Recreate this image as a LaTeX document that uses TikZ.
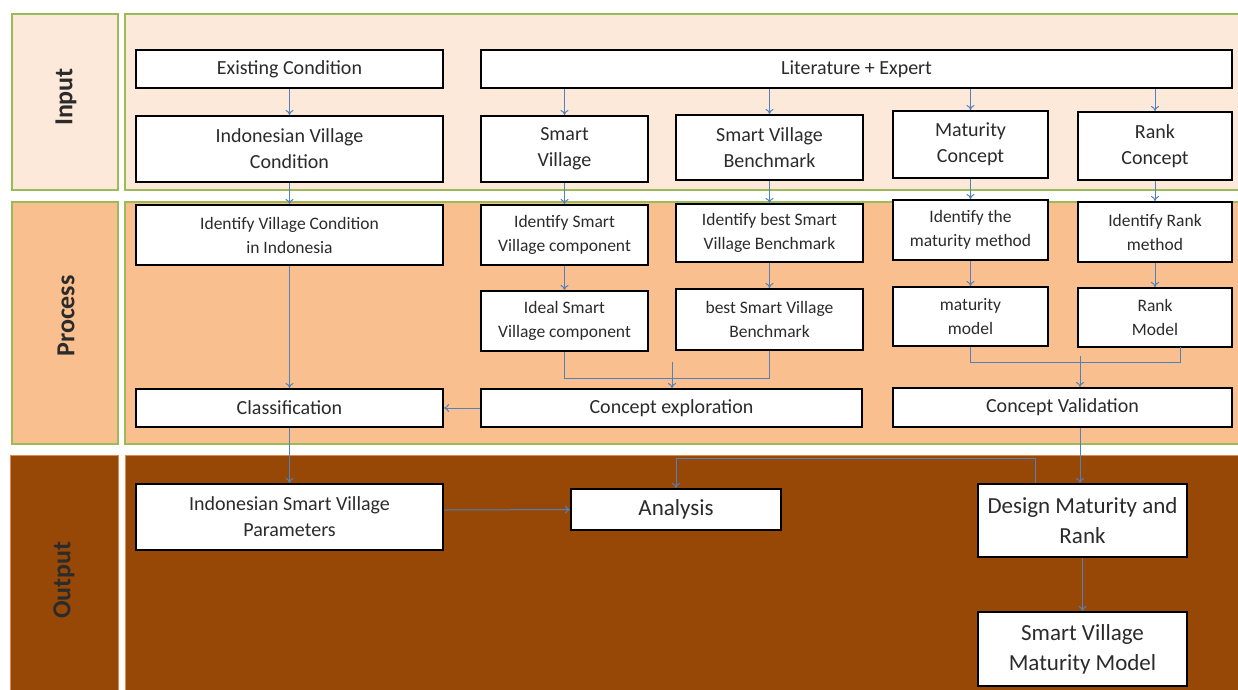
\documentclass[tikz,border=0pt]{standalone}
\usepackage{fontspec}
\setmainfont{Carlito}
\usetikzlibrary{arrows.meta}
\definecolor{inF}{HTML}{FDE9D9}
\definecolor{prF}{HTML}{FABF8F}
\definecolor{ouF}{HTML}{974806}
\definecolor{bandG}{HTML}{9BBB59}
\definecolor{bandO}{HTML}{E0894A}
\definecolor{conn}{HTML}{4F81BD}
\definecolor{txt}{HTML}{2B2B2B}
\begin{document}
\begin{tikzpicture}[x=1pt,y=-1pt,
 box/.style={draw=black, line width=2pt, fill=white, align=center, inner sep=1pt, text=txt, font=\fontsize{20}{26}\selectfont},
 pbox/.style={box, font=\fontsize{17.5}{24}\selectfont},
 obox/.style={box, font=\fontsize{23}{30}\selectfont},
 cn/.style={draw=conn, line width=1pt, -{To[length=5pt,width=8pt]}},
 cl/.style={draw=conn, line width=1pt},
 band/.style={draw=bandG, line width=1.5pt},
 oband/.style={draw=bandO, line width=1pt},
 lbl/.style={rotate=90, font=\bfseries\fontsize{26}{30}\selectfont, text=txt}]
\useasboundingbox (0,0) rectangle (1238,689);
\clip (0,0) rectangle (1238,689);
\fill[white] (0,0) rectangle (1238,689);
% bands
\draw[band, fill=inF] (12,14) rectangle (118,190);
\draw[band, fill=inF] (125,14) rectangle (1250,190);
\draw[band, fill=prF] (12,202) rectangle (118,444);
\draw[band, fill=prF] (125,202) rectangle (1250,444);
\draw[oband, fill=ouF] (10,455) rectangle (118,700);
\draw[oband, fill=ouF] (125,455) rectangle (1250,700);
\node[lbl] (lin) at (66,97) {Input};
\node[lbl] (lpr) at (66,316) {Process};
\node[lbl] (lou) at (64,580) {Output};
% input row
\node[box, minimum width=307pt, minimum height=38pt] (ec) at (289.5,69) {Existing Condition};
\node[box, minimum width=751pt, minimum height=38pt] (lit) at (856.5,69) {Literature + Expert};
\node[box, minimum width=307pt, minimum height=66pt] (ivc) at (289.5,149) {Indonesian Village\\Condition};
\node[box, minimum width=167pt, minimum height=66pt] (sv) at (564.5,149) {Smart\\Village};
\node[box, minimum width=187pt, minimum height=65pt] (svb) at (769.5,147.5) {Smart Village\\Benchmark};
\node[box, minimum width=155pt, minimum height=67pt] (mc) at (970.5,144.5) {Maturity\\Concept};
\node[box, minimum width=154pt, minimum height=68pt] (rc) at (1155,146) {Rank\\Concept};
% process
\node[pbox, minimum width=307pt, minimum height=60pt] (ivp) at (289.5,235) {Identify Village Condition\\in Indonesia};
\node[pbox, minimum width=167pt, minimum height=60pt] (isv) at (564.5,235) {Identify Smart\\Village component};
\node[pbox, minimum width=187pt, minimum height=58pt] (ib) at (769.5,233) {Identify best Smart\\Village Benchmark};
\node[pbox, minimum width=155pt, minimum height=60pt] (im) at (970.5,230) {Identify the\\maturity method};
\node[pbox, minimum width=154pt, minimum height=60pt] (ir) at (1155,232) {Identify Rank\\method};
\node[pbox, minimum width=167pt, minimum height=60pt] (ideal) at (564.5,321) {Ideal Smart\\Village component};
\node[pbox, minimum width=187pt, minimum height=61pt] (bsvb) at (769.5,319.5) {best Smart Village\\Benchmark};
\node[pbox, minimum width=155pt, minimum height=59pt] (mm) at (970.5,316.5) {maturity\\model};
\node[pbox, minimum width=154pt, minimum height=59pt] (rm) at (1155,317.5) {Rank\\Model};
\node[box, minimum width=307pt, minimum height=38pt] (cls) at (289.5,408) {Classification};
\node[box, minimum width=381pt, minimum height=38pt] (ce) at (671.5,408) {Concept exploration};
\node[box, minimum width=339pt, minimum height=39pt] (cv) at (1062.5,407.5) {Concept Validation};
% output
\node[box, minimum width=307pt, minimum height=66pt] (isvp) at (289.5,517) {Indonesian Smart Village\\Parameters};
\node[obox, minimum width=210pt, minimum height=41pt] (an) at (676,509.5) {Analysis};
\node[obox, minimum width=209pt, minimum height=73pt] (dmr) at (1082.5,520.5) {Design Maturity and\\Rank};
\node[obox, minimum width=209pt, minimum height=74pt] (svmm) at (1082.5,649) {Smart Village\\Maturity Model};
% connectors
\draw[cn] (ec) -- (ivc);
\draw[cn] (ivc) -- (ivp);
\draw[cn] (ivp) -- (cls);
\draw[cn] (sv.north |- lit.south) -- (sv.north);
\draw[cn] (svb.north |- lit.south) -- (svb.north);
\draw[cn] (mc.north |- lit.south) -- (mc.north);
\draw[cn] (rc.north |- lit.south) -- (rc.north);
\draw[cn] (sv) -- (isv);
\draw[cn] (svb) -- (ib);
\draw[cn] (mc) -- (im);
\draw[cn] (rc) -- (ir);
\draw[cn] (isv) -- (ideal);
\draw[cn] (ib) -- (bsvb);
\draw[cn] (im) -- (mm);
\draw[cn] (ir) -- (rm);
\coordinate (j1) at (672,378);
\coordinate (j1t) at (672,362);
\draw[cl] (ideal.south) |- (j1) -| (bsvb.south);
\draw[cn] (j1t) -- (ce.north -| j1t);
\coordinate (j2) at (1080,362);
\coordinate (j2t) at (1080,356);
\coordinate (rmb) at (1180,347);
\draw[cl] (mm.south) |- (j2) -| (rmb);
\draw[cn] (j2t) -- (cv.north -| j2t);
\draw[cn] (ce.west) -- (cls.east);
\draw[cn] (cls) -- (isvp);
\draw[cn] ([yshift=7pt]isvp.east) -- (an.west);
\draw[cn] (cv.south -| j2) -- (dmr.north -| j2);
\coordinate (j3) at (676,458);
\draw[cn] ([xshift=-47.5pt]dmr.north) |- (j3) -- (an.north);
\draw[cn] (dmr) -- (svmm);
\end{tikzpicture}
\end{document}
